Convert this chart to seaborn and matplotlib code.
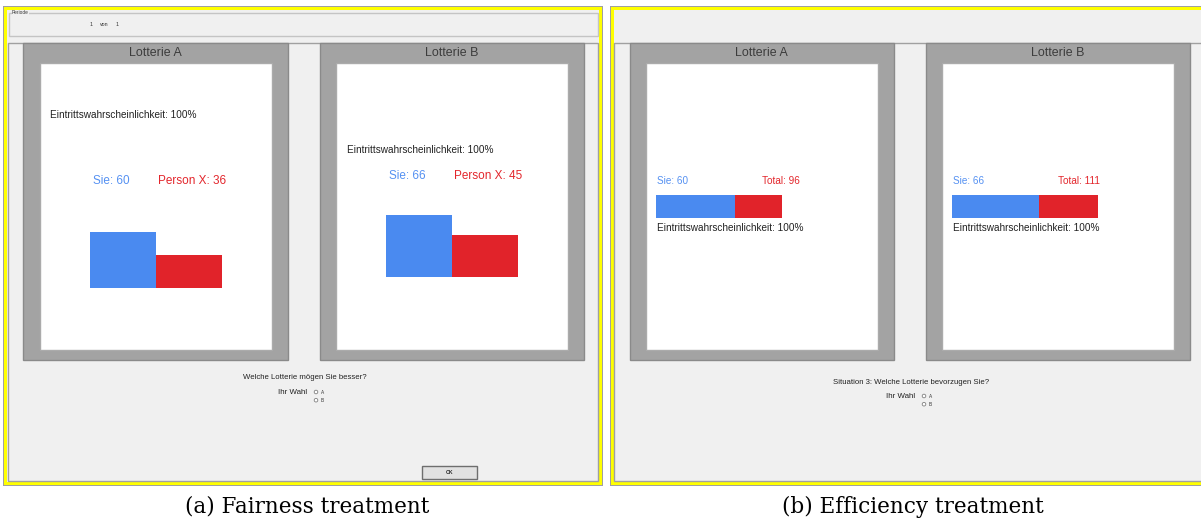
import numpy as np
import pandas as pd
import seaborn as sns
import matplotlib.pyplot as plt
from matplotlib.patches import Rectangle, Circle

sns.set_theme(style="white")
plt.rcParams['font.family'] = ['Liberation Sans', 'DejaVu Sans']

# ------------------------ values ------------------------
LOTTERIES = ["Lotterie A", "Lotterie B"]
FAIR_SIE = [60, 66]
FAIR_PERSON_X = [36, 45]
EFF_SIE = [60, 66]
EFF_TOTAL = [96, 111]
PROB = [100, 100]
QUESTIONS = ["Welche Lotterie mögen Sie besser?",
             "Situation 3: Welche Lotterie bevorzugen Sie?"]
CHOICE_LABEL = "Ihr Wahl"
CHOICES = ["A", "B"]
CAPTIONS = ["(a) Fairness treatment", "(b) Efficiency treatment"]
PERIODE = ["1", "von", "1"]

# ------------------------ layout / style ------------------------
W, H = 1201, 522
BLUE = "#4A8AF0"
RED = "#E1232A"
BLUE_TXT = "#5591F2"
RED_TXT = "#E3262C"
SCREEN_BG = "#F0F0F0"
BOX_GRAY = "#A3A3A3"
LINE_GRAY = "#A0A0A0"
YELLOW = "#FFFF00"

# gray lottery boxes (x, y, w, h) in pixels, and white cards inside them
FAIR_BOXES = [(23, 43.3, 265, 316.7), (320, 43.3, 264, 316.7)]
FAIR_CARDS = [(39.8, 62.7, 231.9, 287.3), (336, 62.7, 232, 287.3)]
EFF_BOXES = [(630, 43.3, 263.6, 316.7), (926, 43.3, 264.3, 316.7)]
EFF_CARDS = [(645.6, 62.7, 231.9, 287.3), (941.9, 62.7, 232.1, 287.3)]

FAIR_BASE = [225.6, 214.0]      # bar baseline, px below card top
FAIR_PX_UNIT = 0.935            # px per payoff unit (vertical bars)
FAIR_BAR_W = 65.8               # px per bar
EFF_PX_UNIT = 1.313             # px per payoff unit (stacked bar)
EFF_LEFT = [10.7, 10.3]         # bar start, px from card left
EFF_MID = 143.8                 # bar centre, px below card top
EFF_BAR_H = 23.6


def rect(ax, x, y, w, h, fc, ec="none", lw=0, z=1):
    ax.add_patch(Rectangle((x, y), w, h, facecolor=fc, edgecolor=ec,
                           linewidth=lw, zorder=z))


def card_axes(fig, card):
    x, y, w, h = card
    ax = fig.add_axes([x / W, 1 - (y + h) / H, w / W, h / H])
    ax.set_facecolor("none")
    ax.axis("off")
    return ax


fig = plt.figure(figsize=(W / 100, H / 100), dpi=100)
fig.patch.set_facecolor("white")

bg = fig.add_axes([0, 0, 1, 1])
bg.set_xlim(0, W)
bg.set_ylim(H, 0)
bg.axis("off")

# screen frames (gray outline, yellow band, window fill)
for sx, sw in [(2.5, 600), (610, 600)]:
    rect(bg, sx, 6, sw, 479.5, LINE_GRAY, z=1)
    rect(bg, sx + 1, 7, sw - 2, 477.5, YELLOW, z=2)
    rect(bg, sx + 4, 10, sw - 8, 471.5, SCREEN_BG, z=3)

# period group box on the left screen
rect(bg, 8.5, 12.5, 589, 23, "none", ec="#C4C4C4", lw=1, z=4)
# content areas
rect(bg, 8, 43, 590, 437.7, SCREEN_BG, ec=LINE_GRAY, lw=1, z=4)
rect(bg, 614, 43, 600, 437.7, SCREEN_BG, ec=LINE_GRAY, lw=1, z=4)

for box, card in zip(FAIR_BOXES + EFF_BOXES, FAIR_CARDS + EFF_CARDS):
    rect(bg, *box, BOX_GRAY, ec="#8A8A8A", lw=1, z=5)
    rect(bg, *card, "white", ec="#ABABAB", lw=1, z=6)

# OK button
rect(bg, 422, 466, 55, 13, "#E1E1E1", ec="#6E6E6E", lw=1, z=6)

# ------------------------ bars ------------------------
for i, card in enumerate(FAIR_CARDS):
    ax = card_axes(fig, card)
    df = pd.DataFrame({"who": ["Sie", "Person X"],
                       "payoff": [FAIR_SIE[i], FAIR_PERSON_X[i]]})
    sns.barplot(data=df, x="who", y="payoff", hue="who",
                palette=[BLUE, RED], saturation=1, width=1,
                linewidth=0, legend=False, ax=ax)
    span = card[2] / FAIR_BAR_W
    ax.set_xlim(0.5 - span / 2, 0.5 + span / 2)
    ax.set_ylim(-(card[3] - FAIR_BASE[i]) / FAIR_PX_UNIT,
                FAIR_BASE[i] / FAIR_PX_UNIT)
    ax.axis("off")

for i, card in enumerate(EFF_CARDS):
    ax = card_axes(fig, card)
    # total drawn first (red), own share on top (blue) -> stacked look
    sns.barplot(x=[EFF_TOTAL[i]], y=["bar"], orient="h", color=RED,
                saturation=1, width=1, linewidth=0, ax=ax)
    sns.barplot(x=[EFF_SIE[i]], y=["bar"], orient="h", color=BLUE,
                saturation=1, width=1, linewidth=0, ax=ax)
    ax.set_xlim(-EFF_LEFT[i] / EFF_PX_UNIT,
                (card[2] - EFF_LEFT[i]) / EFF_PX_UNIT)
    ax.set_ylim((card[3] - EFF_MID) / EFF_BAR_H, -EFF_MID / EFF_BAR_H)
    ax.axis("off")

# ------------------------ texts ------------------------
top = fig.add_axes([0, 0, 1, 1], zorder=10)
top.set_facecolor("none")
top.set_xlim(0, W)
top.set_ylim(H, 0)
top.axis("off")

TITLE_C = "#3C3C3C"
for box, name in zip(FAIR_BOXES + EFF_BOXES, LOTTERIES * 2):
    top.text(box[0] + box[2] / 2, 53.3, name, ha="center", va="center",
             fontsize=8.9, color=TITLE_C)

prob_txt = [f"Eintrittswahrscheinlichkeit: {p}%" for p in PROB]

# fairness screen
fair_prob_pos = [(50.5, 115), (346.7, 150)]
fair_lab_y = [181, 176]
fair_sie_x = [92.6, 388.8]
fair_px_x = [158, 454]
for i in range(2):
    top.text(*fair_prob_pos[i], prob_txt[i], ha="left", va="center",
             fontsize=7.2, color="#222222")
    top.text(fair_sie_x[i], fair_lab_y[i], f"Sie: {FAIR_SIE[i]}",
             ha="left", va="center", fontsize=8.5, color=BLUE_TXT)
    top.text(fair_px_x[i], fair_lab_y[i], f"Person X: {FAIR_PERSON_X[i]}",
             ha="left", va="center", fontsize=8.5, color=RED_TXT)

# efficiency screen
eff_sie_x = [656.7, 952.6]
eff_tot_x = [761.7, 1058]
for i in range(2):
    top.text(eff_sie_x[i], 181, f"Sie: {EFF_SIE[i]}", ha="left",
             va="center", fontsize=7.2, color=BLUE_TXT)
    top.text(eff_tot_x[i], 181, f"Total: {EFF_TOTAL[i]}", ha="left",
             va="center", fontsize=7.2, color=RED_TXT)
    top.text(eff_sie_x[i], 228, prob_txt[i], ha="left", va="center",
             fontsize=7.2, color="#222222")

# period line
top.text(12, 12.5, "Periode", ha="left", va="center", fontsize=3.4,
         color="#333333", bbox=dict(fc=SCREEN_BG, ec="none", pad=0.3))
for x, s in zip([90, 99.5, 116], PERIODE):
    top.text(x, 24.5, s, ha="left", va="center", fontsize=3.8,
             color="#333333")

# questions and radio buttons
q_pos = [(242.7, 377.7), (832.7, 382.7)]
wahl_pos = [(277.7, 392), (886, 396)]
radio_x = [316, 924]
for i in range(2):
    top.text(*q_pos[i], QUESTIONS[i], ha="left", va="center",
             fontsize=5.6, color="#222222")
    top.text(*wahl_pos[i], CHOICE_LABEL, ha="left", va="center",
             fontsize=5.7, color="#222222")
    for k, c in enumerate(CHOICES):
        cy = wahl_pos[i][1] + 8.2 * k
        top.add_patch(Circle((radio_x[i], cy), 1.8, facecolor="white",
                             edgecolor="#808080", linewidth=0.6))
        top.text(radio_x[i] + 5, cy, c, ha="left", va="center",
                 fontsize=3.4, color="#333333")

top.text(449.5, 472.5, "OK", ha="center", va="center", fontsize=3.6,
         color="#222222", fontweight="bold")

# captions
for cx, cap in zip([307, 913], CAPTIONS):
    top.text(cx, 507, cap, ha="center", va="center", fontsize=15.5,
             family="DejaVu Serif", color="black")

fig.savefig("out.png", dpi=100, facecolor="white")
